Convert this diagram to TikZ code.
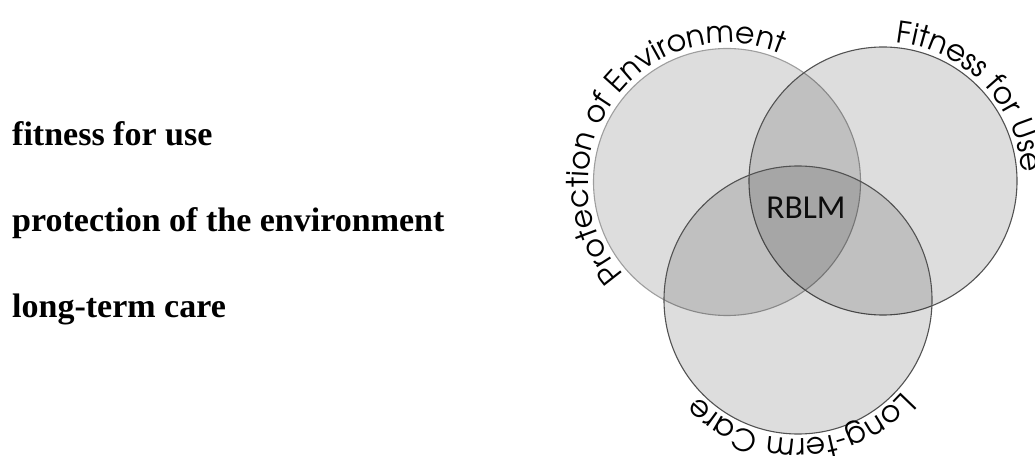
\documentclass[tikz,border=0pt]{standalone}
\usepackage{fontspec}
\usetikzlibrary{decorations.text}
\newfontfamily\listfont{Liberation Serif}
\newfontfamily\labelfont{Carlito}
\newfontfamily\arcfont{texgyreadventor-regular.otf}
\begin{document}
\begin{tikzpicture}[x=1pt,y=1pt,
  venn/.style={fill=black, fill opacity=0.135, line width=1.1pt},
  listitem/.style={anchor=base west, inner sep=0pt, font=\listfont\bfseries\fontsize{34}{40}\selectfont},
  arclabel/.style={decorate, decoration={text along path, text align=center, text={#1}}}]
\useasboundingbox (0,0) rectangle (1035,455);
\coordinate (L) at (727,273);
\coordinate (F) at (883,274);
\coordinate (B) at (798,155);
\draw[venn, draw=black!38] (L) circle[radius=133.5];
\draw[venn, draw=black!68] (F) circle[radius=134];
\draw[venn, draw=black!68] (B) circle[radius=134];
\node[font=\labelfont\fontsize{33.5}{33.5}\selectfont, text=black!95] (rblm) at (806,247.5) {RBLM};
\path[arclabel={|\arcfont\fontsize{30}{30}\selectfont|Protection of Environment}] ([shift={(244.4:139)}]L) arc[start angle=244.4, end angle=44.4, radius=139];
\path[arclabel={|\arcfont\fontsize{30}{30}\selectfont|Fitness for Use}] ([shift={(124:139)}]F) arc[start angle=124, end angle=-36, radius=139];
\path[arclabel={|\arcfont\fontsize{30}{30}\selectfont|Long-term Care}] ([shift={(11.4:139)}]B) arc[start angle=11.4, end angle=-188.6, radius=139];
\node[listitem] (t1) at (12,309) {fitness for use};
\node[listitem] (t2) at (12,223) {protection of the environment};
\node[listitem] (t3) at (12,137) {long-term care};
\end{tikzpicture}
\end{document}
